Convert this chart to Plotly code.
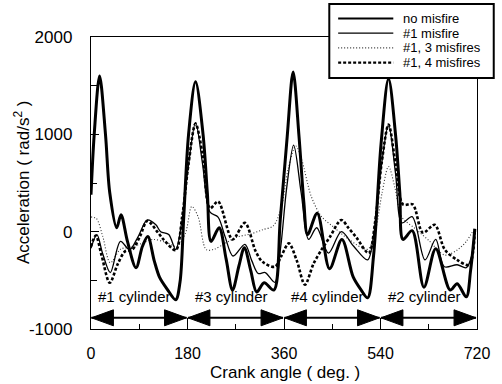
import plotly.graph_objects as go

# ---------------- data ----------------
# no misfire (thick solid)
x_nomis = [0, 6, 16, 27, 35, 48, 56, 68, 84, 96, 106, 118, 128, 142, 158, 166, 173, 182, 195,
           209, 217, 224, 239, 252, 264, 276, 286, 298, 309, 323, 341, 353, 366, 377, 388, 397,
           404, 422, 445, 468, 489, 504, 516, 527, 541, 555, 568, 576, 582, 599, 621, 643, 670,
           683, 700, 708, 716]
y_nomis = [380, 1000, 1600, 1000, 400, 40, 175, -100, -370, -150, -50, -300, -470, -590, -700,
           -520, 150, 1000, 1540, 1000, 400, -100, 40, -280, -600, -350, -165, -400, -620, -525,
           -600, 120, 980, 1640, 980, 300, -30, 190, -380, -80, -465, -600, -680, -250, 900,
           1570, 1000, 400, -80, 10, -570, -175, -600, -535, -670, -400, 30]

# #1 misfire (thin solid)
x_m1 = [0, 11, 22, 36, 55, 72, 88, 105, 121, 130, 145, 158, 169, 181, 195, 208, 222, 237, 250,
        265, 287, 300, 312, 325, 343, 354, 365, 378, 392, 406, 421, 443, 467, 490, 516, 528,
        541, 555, 568, 580, 599, 623, 643, 659, 683, 700, 710, 716]
y_m1 = [-170, -30, -230, -420, -100, -185, -50, 120, 70, 0, -30, -185, 90, 650, 1120, 700, 200,
        150, -50, -250, -130, -300, -430, -420, -520, -150, 450, 890, 400, -80, 40, -220, 0,
        -150, -290, 0, 650, 1100, 600, 90, 155, -290, -80, -360, -340, -370, -250, 20]

# #1, 3 misfires (dotted)
x_m13 = [0, 10, 22, 36, 55, 75, 95, 115, 140, 160, 176, 188, 200, 215, 230, 250, 270, 300, 320,
         340, 355, 368, 382, 393, 411, 430, 452, 481, 516, 530, 543, 555, 567, 580, 605, 630,
         660, 684, 700, 716]
y_m13 = [150, 135, -50, -320, -180, -160, -120, -80, -110, -150, -20, 260, 150, -185, -180, -120,
         -60, -20, 20, 60, 250, 650, 880, 740, 360, 155, 50, -80, -180, 0, 400, 670, 450, 150, 30,
         -90, -240, -185, -100, 40]

# #1, 4 misfires (dashed)
x_m14 = [0, 9, 20, 35, 50, 64, 77, 92, 105, 125, 136, 158, 170, 182, 195, 208, 222, 237, 264,
         287, 307, 320, 343, 355, 369, 384, 399, 415, 430, 445, 467, 480, 495, 518, 530, 542, 555,
         568, 582, 600, 619, 641, 660, 683, 705, 716]
y_m14 = [-150, -40, -250, -525, -330, -200, -185, -40, 110, -10, -85, -190, 150, 700, 1110, 800,
         240, 310, -80, 90, -200, -310, -360, -250, -120, -300, -545, -330, -185, -60, 120, 40,
         -60, -220, 100, 700, 1100, 700, 280, 280, -10, 70, -185, -290, -340, 20]

series_names = ["no misfire", "#1 misfire", "#1, 3 misfires", "#1, 4 misfires"]

cyl_bounds = [0, 180, 360, 540, 720]
cyl_labels = ["#1 cylinder", "#3 cylinder", "#4 cylinder", "#2 cylinder"]
arrow_level = -885
label_level = -670

x_ticks = [0, 180, 360, 540, 720]
y_ticks = [-1000, 0, 1000, 2000]

# ---------------- styles ----------------
FONT = "Liberation Sans, Arial, sans-serif"
styles = [
    dict(color="black", width=3.0, dash="solid"),
    dict(color="black", width=1.3, dash="solid"),
    dict(color="#333333", width=1.1, dash="1px,2px"),
    dict(color="black", width=2.6, dash="3px,2px"),
]
xs = [x_nomis, x_m1, x_m13, x_m14]
ys = [y_nomis, y_m1, y_m13, y_m14]

fig = go.Figure()
# draw thin ones first, thick last
for i in [2, 3, 1, 0]:
    fig.add_trace(go.Scatter(x=xs[i], y=ys[i], mode="lines", name=series_names[i],
                             line=dict(shape="spline", smoothing=0.9, **styles[i]),
                             showlegend=False, cliponaxis=True))

shapes = []
annotations = []

# cylinder arrows
for k in range(len(cyl_labels)):
    a = cyl_bounds[k] + 0.8
    b = cyl_bounds[k + 1] - 1.8
    shapes.append(dict(type="line", xref="x", yref="y", x0=a, x1=b, y0=arrow_level, y1=arrow_level,
                       line=dict(color="black", width=2)))
    shapes.append(dict(type="path", xref="x", yref="y", xsizemode="pixel", ysizemode="pixel",
                       xanchor=a, yanchor=arrow_level, path="M0,0 L22,8 L22,-8 Z",
                       fillcolor="black", line=dict(color="black", width=1)))
    shapes.append(dict(type="path", xref="x", yref="y", xsizemode="pixel", ysizemode="pixel",
                       xanchor=b, yanchor=arrow_level, path="M0,0 L-22,8 L-22,-8 Z",
                       fillcolor="black", line=dict(color="black", width=1)))
    mid = (cyl_bounds[k] + cyl_bounds[k + 1]) / 2 - 8
    annotations.append(dict(x=mid, y=label_level, xref="x", yref="y", text=cyl_labels[k],
                            showarrow=False, font=dict(family=FONT, size=15, color="black"),
                            xanchor="center", yanchor="middle"))

# legend drawn manually
PL, PR, PT, PB = 91, 483, 37, 329
def px2x(p):
    return (p - PL) / (PR - PL)
def py2y(p):
    return (PB - p) / (PB - PT)

shapes.append(dict(type="rect", xref="paper", yref="paper", x0=px2x(333), x1=px2x(500),
                   y0=py2y(78), y1=py2y(4), fillcolor="white",
                   line=dict(color="black", width=2), layer="above"))
leg_rows = [18.5, 33.2, 47.9, 62.6]
for i, r in enumerate(leg_rows):
    st = styles[i]
    shapes.append(dict(type="line", xref="paper", yref="paper", x0=px2x(342), x1=px2x(398),
                       y0=py2y(r), y1=py2y(r), layer="above",
                       line=dict(color=st["color"], width=min(st["width"], 2.2), dash=st["dash"])))
    annotations.append(dict(x=px2x(406), y=py2y(r), xref="paper", yref="paper",
                            text=series_names[i], showarrow=False, xanchor="left",
                            yanchor="middle", font=dict(family=FONT, size=13, color="black")))

# axis titles
annotations.append(dict(x=px2x(288), y=py2y(372), xref="paper", yref="paper",
                        text="Crank angle ( deg. )", showarrow=False, xanchor="center",
                        yanchor="middle", font=dict(family=FONT, size=17, color="black")))
annotations.append(dict(x=px2x(21), y=py2y(183), xref="paper", yref="paper",
                        text="Acceleration ( rad/s<sup>2</sup> )", showarrow=False,
                        textangle=-90, xanchor="center", yanchor="middle",
                        font=dict(family=FONT, size=17, color="black")))

fig.update_layout(
    width=502, height=384,
    margin=dict(l=PL, r=502 - PR, t=PT, b=384 - PB, pad=0),
    paper_bgcolor="white", plot_bgcolor="white",
    font=dict(family=FONT, color="black"),
    shapes=shapes, annotations=annotations,
    showlegend=False,
)
fig.update_xaxes(range=[0, 720], tickvals=x_ticks, ticktext=[str(v) for v in x_ticks],
                 ticks="inside", ticklen=11, tickwidth=1.2, tickcolor="black",
                 minor=dict(dtick=90, tick0=0, ticks="inside", ticklen=5, tickwidth=1.2,
                            tickcolor="black", showgrid=False),
                 showline=True, linecolor="black", linewidth=1.4, mirror=True,
                 showgrid=False, zeroline=False, ticklabelstandoff=10,
                 tickfont=dict(family=FONT, size=16, color="black"))
fig.update_yaxes(range=[-1000, 2000], tickvals=y_ticks, ticktext=[str(v) for v in y_ticks],
                 ticks="inside", ticklen=8, tickwidth=1.2, tickcolor="black",
                 minor=dict(dtick=500, tick0=0, ticks="inside", ticklen=6, tickwidth=1.2,
                            tickcolor="black", showgrid=False),
                 showline=True, linecolor="black", linewidth=1.4, mirror=True,
                 showgrid=False, zeroline=False, ticklabelstandoff=14,
                 tickfont=dict(family=FONT, size=17, color="black"))

fig.write_html("out.html")
